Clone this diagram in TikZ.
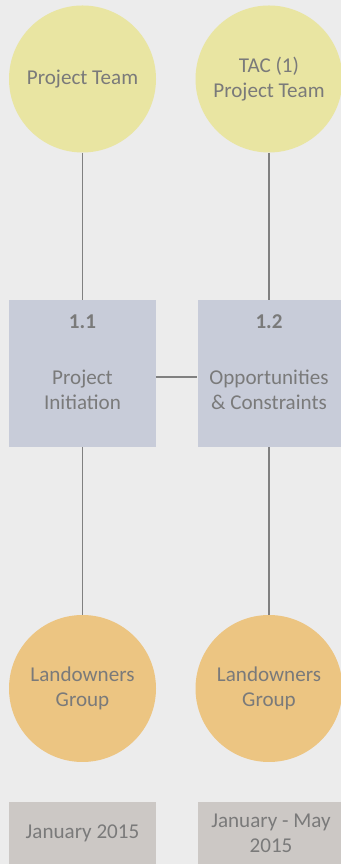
\documentclass[tikz,border=0pt]{standalone}
\usepackage{fontspec}
\setmainfont{Carlito}
\usepackage{tikz}
\usetikzlibrary{calc,positioning}
\definecolor{bgcol}{RGB}{236,236,236}
\definecolor{teamcol}{RGB}{233,229,162}
\definecolor{stagecol}{RGB}{200,204,217}
\definecolor{groupcol}{RGB}{236,197,130}
\definecolor{datecol}{RGB}{204,200,197}
\definecolor{txtcol}{RGB}{122,122,122}
\definecolor{linecol}{RGB}{128,128,128}
\tikzset{
  teamnode/.style={circle, fill=teamcol, minimum size=3.675cm, inner sep=0pt, align=center, font=\fontsize{15}{17.8}\selectfont, text=txtcol},
  groupnode/.style={circle, fill=groupcol, minimum size=3.675cm, inner sep=0pt, align=center, font=\fontsize{15}{17.8}\selectfont, text=txtcol},
  stagebox/.style={rectangle, fill=stagecol, minimum width=3.675cm, minimum height=3.675cm, inner sep=0pt},
  datebox/.style={rectangle, fill=datecol, minimum width=3.675cm, minimum height=1.55cm, inner sep=0pt, align=center, font=\fontsize{15}{17.8}\selectfont, text=txtcol},
  numtxt/.style={font=\fontsize{15}{17.8}\selectfont\bfseries, text=txtcol},
  stagetxt/.style={align=center, font=\fontsize{15}{17.8}\selectfont, text=txtcol},
  link/.style={draw=linecol, line width=1pt},
}

\begin{document}
\begin{tikzpicture}
  % --- Background ---
  \fill[bgcol] (0,0) rectangle (8.525,21.6);
  \useasboundingbox (0,0) rectangle (8.525,21.6);
  \clip (0,0) rectangle (8.525,21.6);

  % --- Teams ---
  \node[teamnode] (team1) at (2.0625,19.625) {Project Team};
  \node[teamnode] (team2) at (6.725,19.625) {TAC (1)\\Project Team};

  % --- Stages ---
  \node[stagebox] (stage1) at (2.0625,12.2625) {};
  \node[stagebox] (stage2) at (6.775,12.2625) {};
  \node[numtxt] (num1) at (2.0625,13.55) {1.1};
  \node[numtxt] (num2) at (6.725,13.55) {1.2};
  \node[stagetxt] (lab1) at (2.0625,11.85) {Project\\Initiation};
  \node[stagetxt] (lab2) at (6.725,11.85) {Opportunities\\\& Constraints};

  % --- Groups ---
  \node[groupnode] (group1) at (2.0625,4.3875) {Landowners\\Group};
  \node[groupnode] (group2) at (6.725,4.3875) {Landowners\\Group};

  % --- Dates ---
  \node[datebox] (date1) at (2.0625,0.775) {January 2015};
  \node[datebox] (date2) at (6.775,0.775) {January - May\\2015};

  % Links
  \draw[link] (team1) -- (team1 |- stage1.north);
  \draw[link] (team2) -- (team2 |- stage2.north);
  \draw[link] (team1 |- stage1.south) -- (group1);
  \draw[link] (team2 |- stage2.south) -- (group2);
  \draw[link] ([yshift=-0.09cm]stage1.east) -- ([yshift=-0.09cm]stage2.west);
\end{tikzpicture}
\end{document}
